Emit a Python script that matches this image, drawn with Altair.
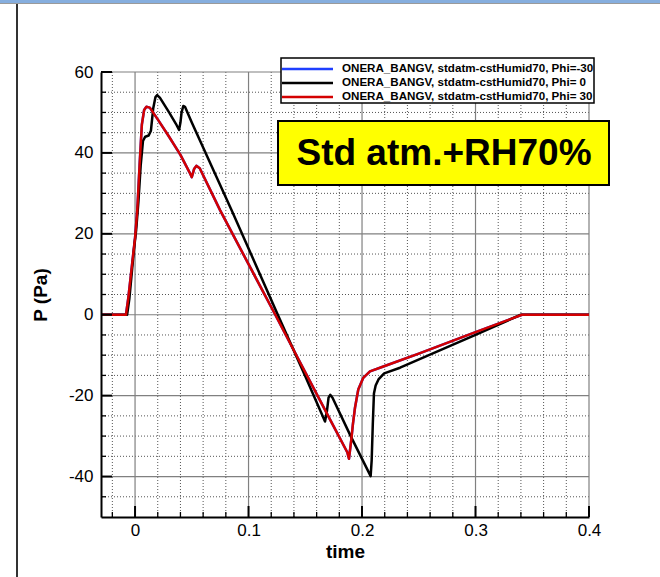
import altair as alt
import pandas as pd

# ---------------- data ----------------
# Phi=30 (red)  -- Phi=-30 (blue) is symmetric and lies exactly under it
t_phi_30 = [-0.03, -0.008, -0.006, -0.004, -0.002, 0.000, 0.002, 0.004, 0.006, 0.008,
            0.010, 0.013, 0.020, 0.030, 0.040, 0.048, 0.050, 0.052, 0.054, 0.057,
            0.075, 0.100, 0.123, 0.144, 0.172, 0.187, 0.1885, 0.1905, 0.192, 0.1938,
            0.1967, 0.2011, 0.207, 0.2188, 0.250, 0.300, 0.341, 0.400]
p_phi_30 = [0, 0, 4, 9, 14, 19, 26, 37, 47, 50.6,
            51.4, 51.2, 48.3, 44.0, 39.5, 35.2, 34.0, 36.0, 36.8, 36.2,
            25.8, 12.5, 0.3, -11.0, -26.0, -34.0, -35.6, -31.0, -27.0, -23.0,
            -18.5, -15.6, -14.0, -12.8, -9.6, -4.3, 0, 0]

t_phi_m30 = [-0.03, -0.008, -0.006, -0.004, -0.002, 0.000, 0.002, 0.004, 0.006, 0.008,
             0.010, 0.013, 0.020, 0.030, 0.040, 0.048, 0.050, 0.052, 0.054, 0.057,
             0.075, 0.100, 0.123, 0.144, 0.172, 0.187, 0.1885, 0.1905, 0.192, 0.1938,
             0.1967, 0.2011, 0.207, 0.2188, 0.250, 0.300, 0.341, 0.400]
p_phi_m30 = [0, 0, 4, 9, 14, 19, 26, 37, 47, 50.6,
             51.4, 51.2, 48.3, 44.0, 39.5, 35.2, 34.0, 36.0, 36.8, 36.2,
             25.8, 12.5, 0.3, -11.0, -26.0, -34.0, -35.6, -31.0, -27.0, -23.0,
             -18.5, -15.6, -14.0, -12.8, -9.6, -4.3, 0, 0]

# Phi=0 (black)
t_phi_0 = [-0.03, -0.007, -0.005, -0.003, -0.001, 0.001, 0.003, 0.005, 0.007, 0.009,
           0.012, 0.014, 0.016, 0.018, 0.0195, 0.022, 0.030, 0.036, 0.0388, 0.040,
           0.041, 0.0425, 0.044, 0.050, 0.0855, 0.125, 0.150, 0.1674, 0.169, 0.1705,
           0.172, 0.174, 0.190, 0.2076, 0.2085, 0.2095, 0.2105, 0.212, 0.2145, 0.2195,
           0.2335, 0.300, 0.340, 0.400]
p_phi_0 = [0, 0, 4, 10, 16, 21, 28, 37, 43, 44,
           44.3, 45.5, 51.0, 53.8, 54.3, 53.6, 50.0, 47.2, 45.7, 47.5,
           50.0, 51.6, 51.4, 47.5, 25.6, 0.5, -15.2, -26.4, -24.0, -20.5,
           -19.8, -20.5, -30.0, -39.9, -36.0, -27.0, -19.5, -17.5, -16.0, -14.5,
           -13.1, -5.0, 0, 0]

x_major = [0, 0.1, 0.2, 0.3, 0.4]
x_minor = [-0.02, 0.02, 0.04, 0.06, 0.08, 0.12, 0.14, 0.16, 0.18,
           0.22, 0.24, 0.26, 0.28, 0.32, 0.34, 0.36, 0.38]
y_major = [-40, -20, 0, 20, 40, 60]
y_minor = [-45, -35, -30, -25, -15, -10, -5, 5, 10, 15, 25, 30, 35, 45, 50, 55]

series_labels = ["ONERA_BANGV, stdatm-cstHumid70, Phi=-30",
                 "ONERA_BANGV, stdatm-cstHumid70, Phi= 0",
                 "ONERA_BANGV, stdatm-cstHumid70, Phi= 30"]
series_colors = ["#1f3fff", "#000000", "#d40000"]
annotation = "Std atm.+RH70%"

# ---------------- chart ----------------
W, H = 488, 445
FONT = "Liberation Sans"

xs = alt.Scale(domain=[-0.03, 0.4], nice=False, zero=False)
ys = alt.Scale(domain=[-50, 60], nice=False, zero=False)

x_axis = alt.Axis(values=x_major, labelExpr="'' + datum.value", grid=False, ticks=False,
                  domainColor="black", domainWidth=2, labelFont=FONT, labelFontSize=17,
                  labelColor="black", labelPadding=5, labelFlush=False,
                  title="time", titleFont=FONT, titleFontSize=19, titleFontWeight="bold",
                  titleColor="black", titleX=W / 2, titleY=34, titleBaseline="middle",
                  zindex=1)
y_axis = alt.Axis(values=y_major, labelExpr="'' + datum.value", grid=False, ticks=False,
                  domainColor="black", domainWidth=2, labelFont=FONT, labelFontSize=17,
                  labelColor="black", labelPadding=8, labelFlush=False,
                  title="P (Pa)", titleFont=FONT, titleFontSize=19, titleFontWeight="bold",
                  titleColor="black", titleX=-61, titleY=H / 2, titleBaseline="middle",
                  titleAngle=270, zindex=1)

X = alt.X("t:Q", scale=xs, axis=x_axis)
Y = alt.Y("P:Q", scale=ys, axis=y_axis)

dummy = pd.DataFrame({"k": [0]})

xmin_df = pd.DataFrame({"t": x_minor})
xmaj_df = pd.DataFrame({"t": x_major})
ymin_df = pd.DataFrame({"P": y_minor})
ymaj_df = pd.DataFrame({"P": y_major})

grid_minor_x = alt.Chart(xmin_df).mark_rule(color="#555555", strokeWidth=1, strokeDash=[1, 2]).encode(x=X)
grid_minor_y = alt.Chart(ymin_df).mark_rule(color="#555555", strokeWidth=1, strokeDash=[1, 2]).encode(y=Y)
grid_major_x = alt.Chart(xmaj_df).mark_rule(color="#808080", strokeWidth=1.2).encode(x=X)
grid_major_y = alt.Chart(ymaj_df).mark_rule(color="#808080", strokeWidth=1.2).encode(y=Y)


def curve(t, p, color):
    df = pd.DataFrame({"t": t, "P": p})
    return alt.Chart(df).mark_line(color=color, strokeWidth=2.5, strokeJoin="round").encode(x=X, y=Y)


line_blue = curve(t_phi_m30, p_phi_m30, series_colors[0])
line_black = curve(t_phi_0, p_phi_0, series_colors[1])
line_red = curve(t_phi_30, p_phi_30, series_colors[2])

tick_x_major = alt.Chart(xmaj_df).mark_rule(color="black", strokeWidth=2).encode(
    x=X, y=alt.value(H), y2=alt.value(H - 11))
tick_x_minor = alt.Chart(xmin_df).mark_rule(color="black", strokeWidth=1.3).encode(
    x=X, y=alt.value(H), y2=alt.value(H - 5))
tick_y_major = alt.Chart(ymaj_df).mark_rule(color="black", strokeWidth=2).encode(
    y=Y, x=alt.value(0), x2=alt.value(11))
tick_y_minor = alt.Chart(ymin_df).mark_rule(color="black", strokeWidth=1.3).encode(
    y=Y, x=alt.value(0), x2=alt.value(5))

# annotation box
box = alt.Chart(dummy).mark_rect(fill="#ffff00", stroke="black", strokeWidth=2).encode(
    x=alt.value(177), x2=alt.value(508), y=alt.value(49), y2=alt.value(113))
box_text = alt.Chart(dummy).mark_text(text=annotation, font=FONT, fontSize=37, fontWeight="bold",
                                      color="black", align="center", baseline="middle").encode(
    x=alt.value(343), y=alt.value(81.5))

# legend
legend_layers = [alt.Chart(dummy).mark_rect(fill="white", stroke="black", strokeWidth=1.5).encode(
    x=alt.value(180), x2=alt.value(493), y=alt.value(-14), y2=alt.value(31))]
for i, (lab, col) in enumerate(zip(series_labels, series_colors)):
    yy = -3 + 14 * i
    legend_layers.append(alt.Chart(dummy).mark_rule(color=col, strokeWidth=2.5).encode(
        x=alt.value(181), x2=alt.value(232), y=alt.value(yy)))
    legend_layers.append(alt.Chart(dummy).mark_text(text=lab, font=FONT, fontSize=11.6,
                                                    fontWeight="bold", color="black",
                                                    align="left", baseline="middle").encode(
        x=alt.value(241), y=alt.value(yy)))

# window frame seen in the screenshot
frame_left = alt.Chart(dummy).mark_rule(color="#333333", strokeWidth=2).encode(
    x=alt.value(-84), y=alt.value(-69), y2=alt.value(505))
frame_top = alt.Chart(dummy).mark_rect(fill="#86aede").encode(
    x=alt.value(-101), x2=alt.value(559), y=alt.value(-72), y2=alt.value(-69))
frame_top2 = alt.Chart(dummy).mark_rule(color="#9a9a9a", strokeWidth=1).encode(
    x=alt.value(-101), x2=alt.value(559), y=alt.value(-68.5))

chart = alt.layer(
    grid_minor_x, grid_minor_y, grid_major_x, grid_major_y,
    line_blue, line_black, line_red,
    tick_x_minor, tick_x_major, tick_y_minor, tick_y_major,
    box, box_text, *legend_layers,
    frame_left, frame_top, frame_top2,
).properties(
    width=W, height=H,
    padding={"left": 101, "top": 72, "right": 71, "bottom": 60},
    autosize=alt.AutoSizeParams(type="none"),
    background="white",
).configure_view(stroke=None)

chart.save("out.html", embed_options={"renderer": "svg", "actions": False})
